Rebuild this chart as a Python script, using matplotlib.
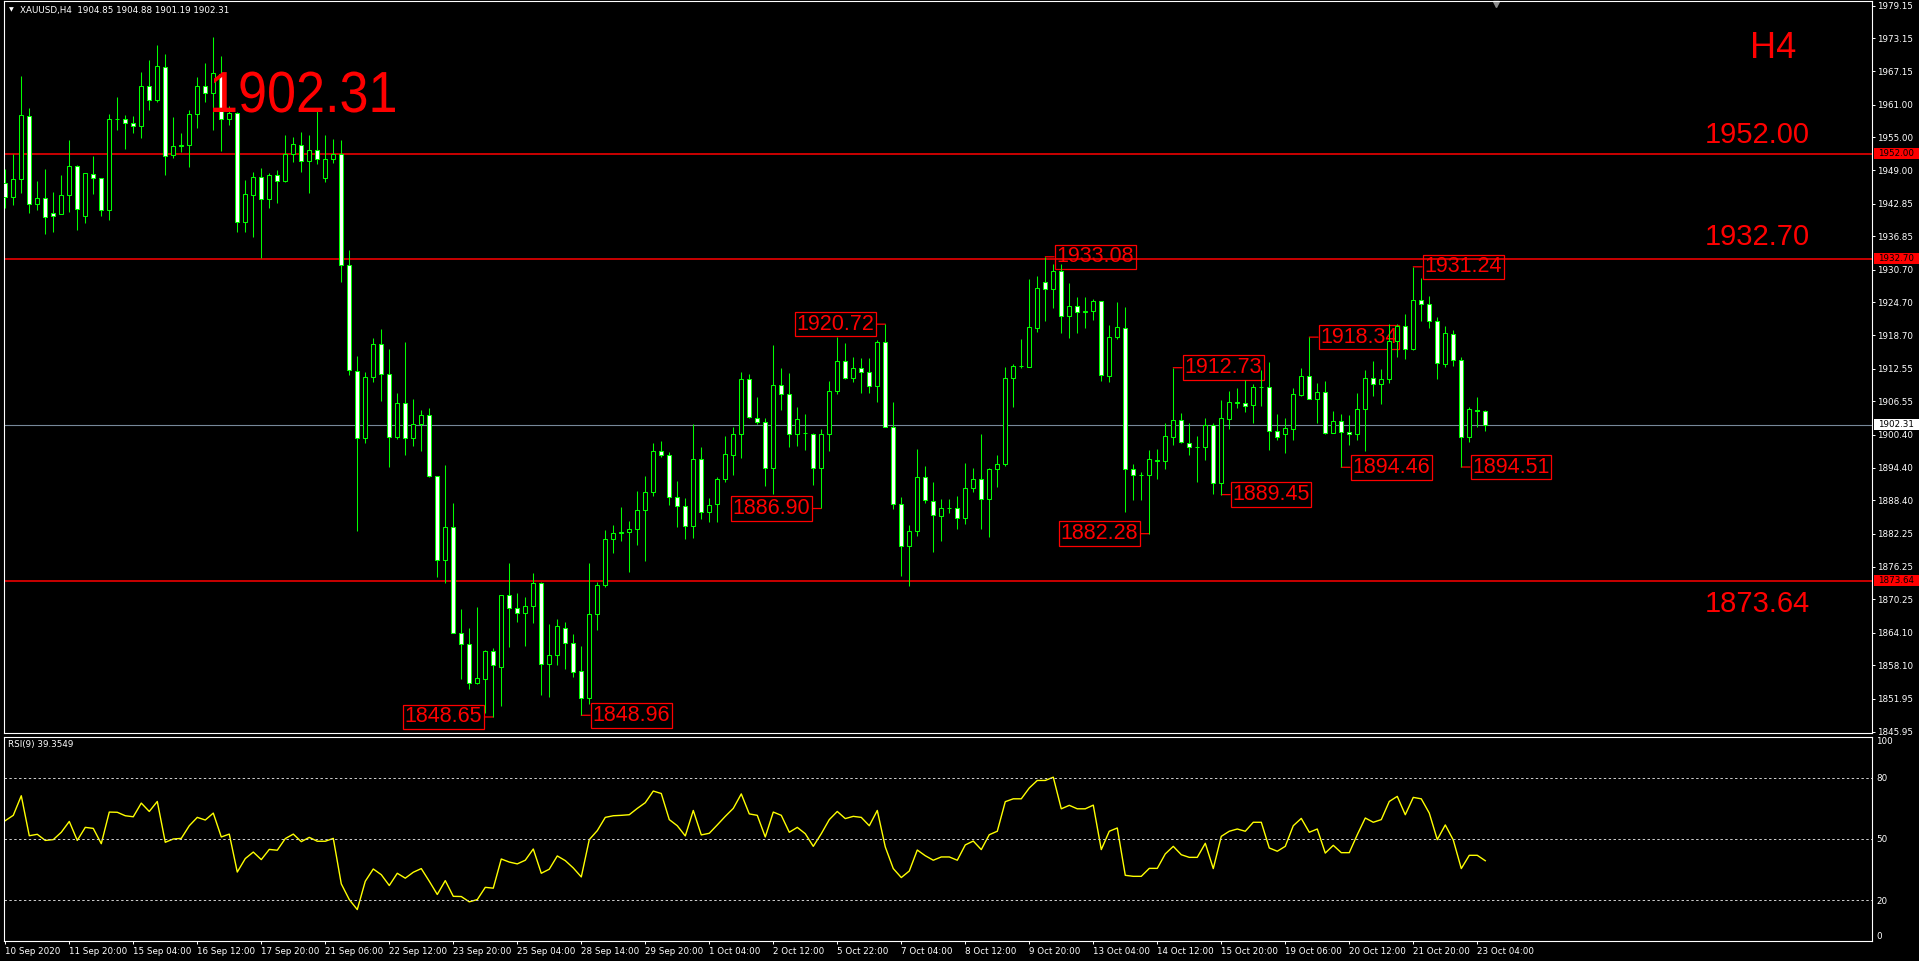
import numpy as np
import matplotlib.pyplot as plt
from matplotlib import font_manager
from matplotlib.font_manager import FontProperties
from matplotlib.patches import Rectangle, PathPatch
from matplotlib.textpath import TextPath
from matplotlib.transforms import Affine2D, blended_transform_factory

# ---- data -----------------------------------------------------------------
open_ = [1946.56, 1944.0, 1947.3, 1959.0, 1942.7, 1943.8, 1941.1, 1941.0, 1944.4, 1949.7,
         1940.5, 1948.2, 1947.5, 1941.6, 1958.3, 1958.4, 1957.6, 1957.0, 1964.35, 1961.9,
         1967.84, 1951.7, 1953.45, 1953.5, 1959.2, 1964.35, 1963.1, 1966.7, 1958.4, 1959.4,
         1939.5, 1944.5, 1947.7, 1943.6, 1948.0, 1946.9, 1951.9, 1953.5, 1950.65, 1952.7,
         1947.5, 1950.96, 1951.9, 1931.5, 1912.2, 1899.8, 1911.1, 1917.0, 1911.5, 1900.0,
         1906.2, 1899.8, 1902.35, 1904.0, 1892.9, 1877.4, 1883.45, 1864.0, 1862.0, 1854.8,
         1855.7, 1860.7, 1857.9, 1871.0, 1868.6, 1867.7, 1868.95, 1873.2, 1858.3, 1860.0,
         1865.0, 1862.2, 1857.0, 1852.1, 1867.5, 1872.9, 1881.25, 1882.35, 1882.65, 1883.1,
         1886.6, 1889.9, 1897.4, 1896.7, 1889.1, 1887.4, 1883.75, 1895.9, 1886.3, 1887.66,
         1892.25, 1896.8, 1900.5, 1910.6, 1903.56, 1902.8, 1894.4, 1909.5, 1907.85, 1900.5,
         1900.8, 1900.5, 1894.4, 1900.5, 1908.4, 1913.9, 1910.8, 1912.6, 1911.9, 1909.4,
         1917.4, 1901.9, 1887.7, 1880.0, 1882.8, 1892.7, 1888.3, 1885.6, 1886.9, 1886.9,
         1885.1, 1890.7, 1892.25, 1888.6, 1894.1, 1895.0, 1910.8, 1913.0, 1912.9, 1920.1,
         1928.4, 1927.1, 1930.4, 1922.15, 1924.0, 1923.0, 1923.2, 1924.9, 1911.3, 1918.3,
         1920.1, 1894.2, 1893.04, 1893.0, 1895.7, 1895.55, 1900.1, 1903.1, 1899.0, 1898.1,
         1898.1, 1902.3, 1891.5, 1903.4, 1906.3, 1906.2, 1905.8, 1909.2, 1909.1, 1901.2,
         1900.5, 1901.4, 1907.7, 1911.15, 1906.9, 1908.2, 1900.7, 1902.9, 1900.9, 1900.5,
         1905.1, 1910.8, 1909.7, 1910.6, 1917.6, 1920.3, 1916.1, 1925.1, 1924.4, 1921.3,
         1913.5, 1919.0, 1914.1, 1900.1, 1905.0, 1904.85]
high = [1949.13, 1951.94, 1966.25, 1960.32, 1946.99, 1949.13, 1944.91, 1948.09, 1954.51, 1949.92,
        1948.4, 1951.57, 1947.6, 1959.28, 1962.40, 1959.1, 1958.91, 1966.98, 1969.19, 1971.94,
        1970.29, 1958.73, 1955.79, 1960.01, 1966.07, 1968.64, 1973.41, 1969.86, 1960.75, 1959.7,
        1947.17, 1948.58, 1949.37, 1948.39, 1949.0, 1955.43, 1955.06, 1955.98, 1955.43, 1959.89,
        1955.43, 1954.69, 1954.51, 1934.33, 1914.88, 1911.95, 1918.18, 1919.84, 1916.17, 1908.03,
        1917.45, 1906.99, 1904.97, 1905.34, 1892.93, 1894.88, 1887.85, 1868.46, 1864.98, 1868.77,
        1860.94, 1861.31, 1870.97, 1876.84, 1871.34, 1870.60, 1875.01, 1873.48, 1865.71, 1866.57,
        1866.02, 1863.88, 1861.68, 1876.84, 1873.36, 1882.96, 1883.88, 1887.18, 1884.61, 1890.05,
        1892.81, 1898.92, 1899.29, 1897.27, 1891.95, 1888.83, 1902.35, 1898.19, 1888.83, 1892.62,
        1900.20, 1901.91, 1911.94, 1911.57, 1907.29, 1903.44, 1916.84, 1912.68, 1911.70, 1905.46,
        1904.24, 1900.81, 1901.48, 1910.29, 1918.36, 1917.26, 1914.63, 1914.57, 1914.57, 1917.81,
        1920.72, 1906.38, 1888.95, 1883.81, 1897.75, 1894.70, 1891.70, 1888.58, 1888.64, 1889.19,
        1895.18, 1894.27, 1900.57, 1894.27, 1896.71, 1912.92, 1913.41, 1918.06, 1928.94, 1929.55,
        1933.08, 1931.76, 1931.76, 1928.21, 1925.64, 1925.64, 1925.27, 1924.95, 1920.57, 1924.78,
        1923.87, 1895.0, 1893.53, 1897.63, 1897.81, 1902.65, 1912.73, 1904.42, 1902.65, 1900.20,
        1903.50, 1902.65, 1906.80, 1908.46, 1909.07, 1910.47, 1909.74, 1912.31, 1913.78, 1904.24,
        1903.44, 1909.07, 1912.68, 1918.34, 1909.86, 1910.23, 1904.79, 1904.24, 1904.05, 1908.09,
        1912.31, 1913.96, 1912.55, 1920.75, 1920.75, 1922.58, 1931.24, 1929.19, 1925.89, 1921.97,
        1920.38, 1919.65, 1914.75, 1905.58, 1907.35, 1904.88]
low = [1942.09, 1942.58, 1944.85, 1941.18, 1941.60, 1937.20, 1937.57, 1940.87, 1941.36, 1938.06,
       1939.34, 1944.66, 1940.63, 1939.89, 1956.40, 1952.92, 1955.85, 1954.94, 1960.01, 1961.48,
       1948.15, 1951.27, 1952.31, 1949.62, 1956.77, 1961.54, 1956.40, 1952.55, 1957.26, 1937.69,
       1937.69, 1936.77, 1932.80, 1941.97, 1942.89, 1946.74, 1950.53, 1948.70, 1944.85, 1950.17,
       1946.86, 1950.35, 1928.40, 1911.40, 1882.84, 1898.86, 1910.17, 1906.69, 1894.58, 1899.71,
       1896.78, 1898.37, 1897.45, 1892.74, 1874.40, 1873.17, 1863.99, 1855.62, 1853.73, 1854.64,
       1849.32, 1848.65, 1850.66, 1861.55, 1866.14, 1861.74, 1865.96, 1852.69, 1852.38, 1858.13,
       1857.52, 1856.05, 1848.96, 1851.03, 1864.61, 1872.44, 1878.80, 1881.0, 1875.31, 1880.27,
       1877.33, 1889.26, 1896.41, 1887.55, 1883.57, 1881.31, 1881.55, 1885.04, 1884.49, 1884.48,
       1891.82, 1893.04, 1896.22, 1903.56, 1902.40, 1891.03, 1889.56, 1904.97, 1898.12, 1898.36,
       1897.63, 1891.21, 1886.90, 1897.45, 1907.91, 1910.60, 1910.17, 1908.15, 1908.15, 1906.50,
       1901.79, 1886.74, 1874.57, 1872.74, 1881.85, 1887.85, 1878.98, 1881.0, 1886.01, 1883.20,
       1884.12, 1889.99, 1883.20, 1881.73, 1890.90, 1894.76, 1905.58, 1912.61, 1912.80, 1919.34,
       1921.36, 1923.62, 1919.04, 1918.24, 1919.16, 1920.08, 1921.48, 1910.35, 1910.17, 1917.93,
       1886.32, 1888.52, 1888.52, 1882.28, 1892.31, 1894.15, 1898.61, 1898.98, 1896.71, 1891.82,
       1895.80, 1889.56, 1889.45, 1901.48, 1905.40, 1904.66, 1902.65, 1905.76, 1897.63, 1899.47,
       1897.02, 1899.47, 1907.54, 1906.93, 1902.65, 1900.50, 1900.69, 1894.46, 1898.61, 1899.47,
       1897.51, 1907.60, 1906.07, 1909.98, 1914.75, 1914.33, 1916.0, 1921.36, 1920.08, 1910.60,
       1912.92, 1913.10, 1894.51, 1899.16, 1901.79, 1901.19]
close = [1944.11, 1947.29, 1959.03, 1942.77, 1943.81, 1940.44, 1940.56, 1944.36, 1949.68, 1941.79,
         1948.39, 1947.48, 1941.60, 1958.30, 1958.42, 1957.57, 1957.02, 1964.35, 1961.91, 1968.02,
         1951.57, 1953.35, 1953.55, 1959.22, 1964.35, 1963.07, 1966.74, 1958.30, 1959.46, 1939.53,
         1944.54, 1947.72, 1943.62, 1948.02, 1946.93, 1951.94, 1953.71, 1950.65, 1952.67, 1950.96,
         1950.96, 1951.94, 1931.52, 1912.31, 1899.78, 1911.09, 1917.02, 1911.52, 1899.96, 1906.20,
         1899.78, 1902.35, 1904.0, 1892.93, 1877.39, 1883.45, 1863.99, 1861.98, 1854.83, 1855.74,
         1860.70, 1858.13, 1870.97, 1868.59, 1867.67, 1868.95, 1873.17, 1858.31, 1859.96, 1865.28,
         1862.17, 1856.97, 1852.07, 1867.48, 1872.87, 1881.25, 1882.35, 1882.65, 1883.08, 1886.57,
         1889.87, 1897.39, 1896.66, 1889.07, 1887.30, 1883.75, 1895.92, 1886.32, 1887.48, 1892.25,
         1896.84, 1900.50, 1910.60, 1903.75, 1902.83, 1894.39, 1909.49, 1907.85, 1900.50, 1903.26,
         1900.81, 1894.39, 1900.50, 1908.40, 1913.90, 1910.78, 1912.61, 1911.88, 1909.37, 1917.38,
         1901.91, 1887.66, 1880.02, 1882.83, 1892.74, 1888.46, 1885.64, 1886.93, 1886.95, 1885.09,
         1890.72, 1892.25, 1888.64, 1894.21, 1895.00, 1910.78, 1913.04, 1913.1, 1920.14, 1927.29,
         1927.11, 1930.41, 1922.15, 1923.99, 1922.95, 1923.05, 1924.91, 1911.33, 1918.42, 1920.14,
         1894.21, 1892.98, 1893.1, 1895.92, 1895.86, 1900.14, 1903.07, 1899.16, 1898.12, 1898.15,
         1902.22, 1891.52, 1903.44, 1906.38, 1906.4, 1905.64, 1909.13, 1909.25, 1901.18, 1900.08,
         1901.61, 1907.84, 1911.15, 1906.93, 1908.21, 1900.69, 1902.89, 1900.87, 1900.57, 1905.09,
         1910.78, 1909.68, 1910.60, 1917.63, 1920.32, 1916.10, 1925.09, 1924.36, 1921.30, 1913.53,
         1919.04, 1914.08, 1900.08, 1905.09, 1904.85, 1902.31]
rsi = [59.0, 61.6, 71.2, 51.6, 52.3, 49.3, 49.7, 53.3, 58.6, 49.3,
       55.7, 55.2, 47.7, 63.2, 63.1, 61.4, 60.9, 67.6, 63.5, 68.4,
       48.4, 50.0, 50.3, 56.5, 60.6, 59.3, 62.7, 51.0, 52.4, 33.8,
       40.4, 43.6, 39.9, 44.9, 44.5, 50.2, 52.4, 48.7, 50.8, 48.9,
       48.9, 50.3, 28.0, 20.3, 15.4, 29.3, 35.3, 32.5, 27.2, 33.2,
       30.8, 33.7, 35.5, 29.3, 22.8, 29.6, 21.9, 21.8, 19.2, 20.3,
       26.3, 25.9, 40.2, 38.7, 37.8, 39.6, 45.1, 33.2, 35.2, 41.7,
       39.4, 35.8, 31.4, 49.7, 54.1, 60.6, 61.4, 61.6, 61.9, 65.0,
       67.8, 73.5, 72.3, 59.5, 56.5, 51.5, 64.0, 52.0, 52.8, 56.9,
       61.1, 65.0, 72.1, 62.3, 61.6, 51.0, 63.2, 61.6, 53.3, 55.7,
       52.6, 46.4, 52.6, 59.5, 63.5, 60.0, 61.1, 60.6, 56.5, 64.0,
       46.1, 35.5, 31.1, 34.3, 44.6, 41.8, 39.6, 41.2, 41.2, 39.6,
       47.1, 49.0, 44.8, 52.1, 53.8, 68.3, 69.7, 69.7, 75.0, 78.7,
       78.7, 80.3, 64.8, 66.5, 64.8, 64.8, 66.6, 44.8, 53.8, 55.4,
       32.2, 31.7, 31.7, 35.6, 35.6, 42.7, 46.4, 42.3, 41.0, 41.0,
       47.9, 35.5, 51.3, 53.8, 54.9, 53.8, 58.2, 58.2, 45.6, 44.0,
       46.4, 56.5, 60.1, 53.3, 54.9, 43.1, 46.9, 43.3, 43.3, 52.1,
       60.3, 58.2, 59.5, 68.4, 70.9, 61.9, 70.4, 69.7, 62.7, 49.7,
       56.9, 49.5, 35.5, 42.0, 42.0, 39.35]

price_ticks = [1979.15, 1973.15, 1967.15, 1961.00, 1955.00, 1949.00, 1942.85, 1936.85,
               1930.70, 1924.70, 1918.70, 1912.55, 1906.55, 1900.40, 1894.40, 1888.40,
               1882.25, 1876.25, 1870.25, 1864.10, 1858.10, 1851.95, 1845.95]
time_labels = ['10 Sep 2020', '11 Sep 20:00', '15 Sep 04:00', '16 Sep 12:00', '17 Sep 20:00',
               '21 Sep 06:00', '22 Sep 12:00', '23 Sep 20:00', '25 Sep 04:00', '28 Sep 14:00',
               '29 Sep 20:00', '1 Oct 04:00', '2 Oct 12:00', '5 Oct 22:00', '7 Oct 04:00',
               '8 Oct 12:00', '9 Oct 20:00', '13 Oct 04:00', '14 Oct 12:00', '15 Oct 20:00',
               '19 Oct 06:00', '20 Oct 12:00', '21 Oct 20:00', '23 Oct 04:00']
level_lines = [1952.00, 1932.70, 1873.64]
last_price = 1902.31
# swing labels: bar index, price, side of the box
swing_bars = [61, 72, 102, 110, 130, 143, 146, 152, 163, 167, 176, 182]
swing_prices = [1848.65, 1848.96, 1886.90, 1920.72, 1933.08, 1882.28,
                1912.73, 1889.45, 1918.34, 1894.46, 1931.24, 1894.51]
swing_side = ['L', 'R', 'L', 'L', 'R', 'L', 'R', 'R', 'R', 'R', 'R', 'R']

# ---- figure ---------------------------------------------------------------
W, H = 1919, 961
GREEN = '#00ff00'
fonts = {f.name for f in font_manager.fontManager.ttflist}
NARROW = 'Liberation Sans Narrow' if 'Liberation Sans Narrow' in fonts else 'Liberation Sans'
plt.rcParams['font.family'] = 'DejaVu Sans'


def fx(px):
    return px / W


def fy(py):
    return 1 - py / H


fig = plt.figure(figsize=(W / 100, H / 100), dpi=100, facecolor='black')
ax = fig.add_axes([fx(4), fy(733), fx(1872) - fx(4), fy(1) - fy(733)], facecolor='black')
rx = fig.add_axes([fx(4), fy(941), fx(1872) - fx(4), fy(737) - fy(941)], facecolor='black')

x = np.arange(len(close))
o, hi, lo, c = map(np.asarray, (open_, high, low, close))
bull = c >= o

ax.vlines(x, lo, hi, color=GREEN, lw=0.75, zorder=3)
ax.bar(x, np.abs(c - o), bottom=np.minimum(o, c), width=0.5,
       color=np.where(bull, 'black', 'white'), edgecolor=GREEN, linewidth=0.75, zorder=4)

for lv in level_lines:
    ax.axhline(lv, color='red', lw=1.1, zorder=2)
ax.axhline(last_price, color='#778899', lw=0.8, zorder=2)

ax.set_xlim(-0.16, 233.34)
ax.set_ylim(1845.71, 1980.01)
ax.set_xticks([])
ax.yaxis.tick_right()
ax.set_yticks(price_ticks)
ax.set_yticklabels([f'{v:.2f}' for v in price_ticks])
ax.tick_params(axis='y', colors='white', labelcolor='white', length=2.2, width=0.7,
               labelsize=6.3, pad=1.5)
for sp in ax.spines.values():
    sp.set_color('white')
    sp.set_linewidth(0.8)

# swing price labels
for b, p, s in zip(swing_bars, swing_prices, swing_side):
    off = -11 if s == 'L' else 11
    ax.annotate(f'{p:.2f}', xy=(b, p), xytext=(off, 0), textcoords='offset pixels',
                ha='right' if s == 'L' else 'left', va='center', color='red',
                fontsize=15.5, family=NARROW, zorder=2,
                bbox=dict(boxstyle='square,pad=0.08', fc='none', ec='red', lw=0.9),
                arrowprops=dict(arrowstyle='-', color='red', lw=0.9,
                                shrinkA=0, shrinkB=0))

# axis price boxes
bt = blended_transform_factory(fig.transFigure, ax.transData)
for lv in level_lines + [last_price]:
    fc = 'white' if lv == last_price else 'red'
    fig.add_artist(Rectangle((fx(1874), lv - 1.0), fx(1919) - fx(1874), 2.0,
                             transform=bt, fc=fc, ec='none', zorder=5))
    fig.text(fx(1878), lv, f'{lv:.2f}', transform=bt, color='black', fontsize=6.3,
             va='center', ha='left', zorder=6)

# big last-price text, squeezed horizontally to the condensed look of the original
big = TextPath((0, 0), f'{last_price:.2f}', size=58, prop=FontProperties(family='Liberation Sans'))
sx = 182 / big.get_extents().width
fig.add_artist(PathPatch(big, transform=Affine2D().scale(sx, 1).translate(209, H - 112),
                         fc='red', ec='none', zorder=1))

fig.text(fx(1750), fy(57.5), 'H4', color='red', fontsize=26,
         family='Liberation Sans', va='baseline', ha='left')
for lv, base in zip(level_lines, [143, 245, 612]):
    fig.text(fx(1705), fy(base), f'{lv:.2f}', color='red', fontsize=21,
             family='Liberation Sans', va='baseline', ha='left')

fig.text(fx(9), fy(10), '\u25bc', color='white', fontsize=4.5, va='center', ha='left')
fig.text(fx(20), fy(10), 'XAUUSD,H4  1904.85 1904.88 1901.19 1902.31', color='white',
         fontsize=6.3, va='center', ha='left')
ax.plot([186.3], [0.996], marker='v', ms=5, color='#8c8c8c', clip_on=False,
        transform=blended_transform_factory(ax.transData, ax.transAxes))

# ---- RSI panel ------------------------------------------------------------
rx.plot(x, rsi, color='#ffff00', lw=1.0)
for lv in (20, 50, 80):
    rx.axhline(lv, color='#d0d0d0', lw=0.7, ls=(0, (2.5, 2.5)))
rx.set_xlim(-0.16, 233.34)
rx.set_ylim(0, 100)
rx.yaxis.tick_right()
rx.set_yticks([0, 20, 50, 80, 100])
rx.set_yticklabels(['0', '20', '50', '80', '100'])
for t in rx.get_yticklabels():
    if t.get_text() == '100':
        t.set_verticalalignment('top')
    elif t.get_text() == '0':
        t.set_verticalalignment('bottom')
rx.tick_params(axis='y', colors='white', length=0, labelsize=6.3, pad=3)
rx.set_xticks(np.arange(0, len(close), 8)[:len(time_labels)])
rx.set_xticklabels(time_labels, ha='left')
rx.tick_params(axis='x', colors='white', length=2.5, width=0.7, labelsize=6.3, pad=1.5)
for sp in rx.spines.values():
    sp.set_color('white')
    sp.set_linewidth(0.8)
rx.text(0.002, 0.985, 'RSI(9) 39.3549', transform=rx.transAxes, color='white',
        fontsize=6.3, va='top', ha='left')

fig.savefig('out.png', dpi=100, facecolor='black')
